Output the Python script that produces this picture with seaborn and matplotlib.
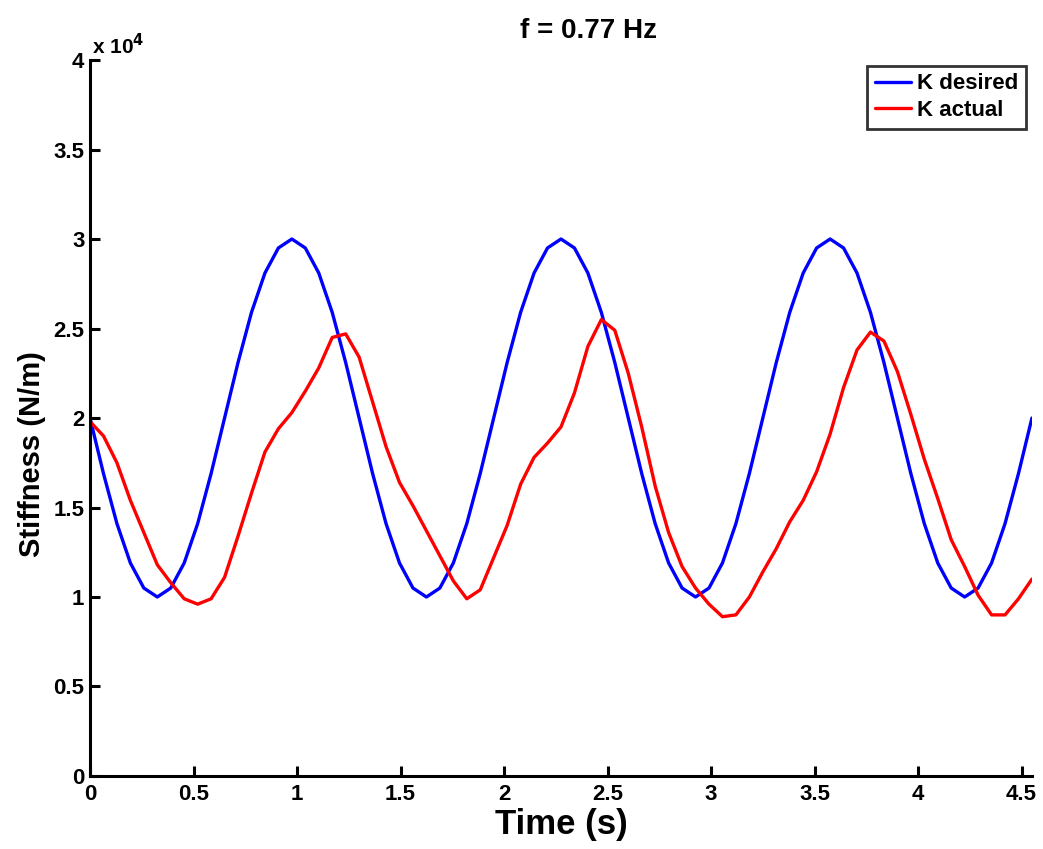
import numpy as np
import pandas as pd
import matplotlib
matplotlib.use("Agg")
import matplotlib.pyplot as plt
import seaborn as sns

# Time samples (s)
time_s = [0.000, 0.065, 0.130, 0.195, 0.260, 0.325, 0.390, 0.455, 0.520, 0.585,
          0.650, 0.715, 0.780, 0.845, 0.910, 0.975, 1.040, 1.105, 1.170, 1.235,
          1.300, 1.365, 1.430, 1.495, 1.560, 1.625, 1.690, 1.755, 1.820, 1.885,
          1.950, 2.015, 2.080, 2.145, 2.210, 2.275, 2.340, 2.405, 2.470, 2.535,
          2.600, 2.665, 2.730, 2.795, 2.860, 2.925, 2.990, 3.055, 3.120, 3.185,
          3.250, 3.315, 3.380, 3.445, 3.510, 3.575, 3.640, 3.705, 3.770, 3.835,
          3.900, 3.965, 4.030, 4.095, 4.160, 4.225, 4.290, 4.355, 4.420, 4.485,
          4.550]

# Stiffness values in units of 1e4 N/m
k_desired = [2.00, 1.69, 1.41, 1.19, 1.05, 1.00, 1.05, 1.19, 1.41, 1.69,
             2.00, 2.31, 2.59, 2.81, 2.95, 3.00, 2.95, 2.81, 2.59, 2.31,
             2.00, 1.69, 1.41, 1.19, 1.05, 1.00, 1.05, 1.19, 1.41, 1.69,
             2.00, 2.31, 2.59, 2.81, 2.95, 3.00, 2.95, 2.81, 2.59, 2.31,
             2.00, 1.69, 1.41, 1.19, 1.05, 1.00, 1.05, 1.19, 1.41, 1.69,
             2.00, 2.31, 2.59, 2.81, 2.95, 3.00, 2.95, 2.81, 2.59, 2.31,
             2.00, 1.69, 1.41, 1.19, 1.05, 1.00, 1.05, 1.19, 1.41, 1.69,
             2.00]

k_actual = [1.98, 1.90, 1.75, 1.54, 1.36, 1.18, 1.08, 0.99, 0.96, 0.99,
            1.11, 1.34, 1.58, 1.81, 1.94, 2.03, 2.15, 2.28, 2.45, 2.47,
            2.34, 2.09, 1.84, 1.64, 1.51, 1.37, 1.23, 1.09, 0.99, 1.04,
            1.22, 1.40, 1.63, 1.78, 1.86, 1.95, 2.14, 2.40, 2.55, 2.49,
            2.25, 1.95, 1.62, 1.36, 1.17, 1.05, 0.96, 0.89, 0.90, 1.00,
            1.14, 1.27, 1.42, 1.54, 1.70, 1.91, 2.17, 2.38, 2.48, 2.43,
            2.26, 2.02, 1.77, 1.55, 1.32, 1.17, 1.01, 0.90, 0.90, 0.99,
            1.10]

series_names = ["K desired", "K actual"]
series_colors = ["#0000ff", "#ff0000"]

x_ticks = [0, 0.5, 1, 1.5, 2, 2.5, 3, 3.5, 4, 4.5]
x_tick_labels = ["0", "0.5", "1", "1.5", "2", "2.5", "3", "3.5", "4", "4.5"]
y_ticks = [0, 5000, 10000, 15000, 20000, 25000, 30000, 35000, 40000]
y_tick_labels = ["0", "0.5", "1", "1.5", "2", "2.5", "3", "3.5", "4"]

df = pd.DataFrame({
    "Time": time_s * 2,
    "Stiffness": [v * 1e4 for v in k_desired] + [v * 1e4 for v in k_actual],
    "Series": [series_names[0]] * len(time_s) + [series_names[1]] * len(time_s),
})

sns.set_style("ticks")
plt.rcParams["font.family"] = ["Liberation Sans", "DejaVu Sans"]
plt.rcParams["font.weight"] = "bold"
plt.rcParams["text.color"] = "black"
plt.rcParams["axes.labelcolor"] = "black"
plt.rcParams["xtick.color"] = "black"
plt.rcParams["ytick.color"] = "black"

fig = plt.figure(figsize=(10.43, 8.49), dpi=100)
ax = fig.add_axes([0.0863, 0.0860, 0.9031, 0.8433])

sns.lineplot(data=df, x="Time", y="Stiffness", hue="Series",
             palette=dict(zip(series_names, series_colors)),
             linewidth=2.4, ax=ax, legend=True, estimator=None, sort=False)

ax.set_xlim(0, 4.55)
ax.set_ylim(0, 40000)
ax.set_xticks(x_ticks)
ax.set_xticklabels(x_tick_labels, fontsize=16, fontweight="bold", color="black")
ax.set_yticks(y_ticks)
ax.set_yticklabels(y_tick_labels, fontsize=16, fontweight="bold", color="black")

for s in ["top", "right"]:
    ax.spines[s].set_visible(False)
for s in ["left", "bottom"]:
    ax.spines[s].set_linewidth(2.2)
    ax.spines[s].set_color("black")
ax.tick_params(direction="in", length=7, width=2.2, colors="black")
ax.tick_params(axis="x", pad=6)
ax.tick_params(axis="y", pad=4)

ax.set_xlabel("Time (s)", fontsize=25, fontweight="bold", labelpad=2, color="black")
ax.set_ylabel("Stiffness (N/m)", fontsize=21, fontweight="bold", color="black")
ax.yaxis.set_label_coords(-0.047, 0.45)
ax.set_title("f = 0.77 Hz", fontsize=20, fontweight="bold", pad=16, x=0.529, color="black")

ax.text(0.002, 1.002, "x 10$^{\\mathbf{4}}$", transform=ax.transAxes,
        fontsize=15, fontweight="bold", ha="left", va="bottom", color="black")

leg = ax.legend(loc="upper right", fontsize=16, frameon=True, fancybox=False,
                handlelength=1.6, handletextpad=0.3, borderpad=0.35,
                labelspacing=0.25, borderaxespad=0.25)
leg.get_frame().set_edgecolor("black")
leg.get_frame().set_linewidth(2.0)
for t in leg.get_texts():
    t.set_fontweight("bold")
    t.set_color("black")
for line in leg.get_lines():
    line.set_linewidth(2.4)

fig.savefig("out.png", dpi=100)
